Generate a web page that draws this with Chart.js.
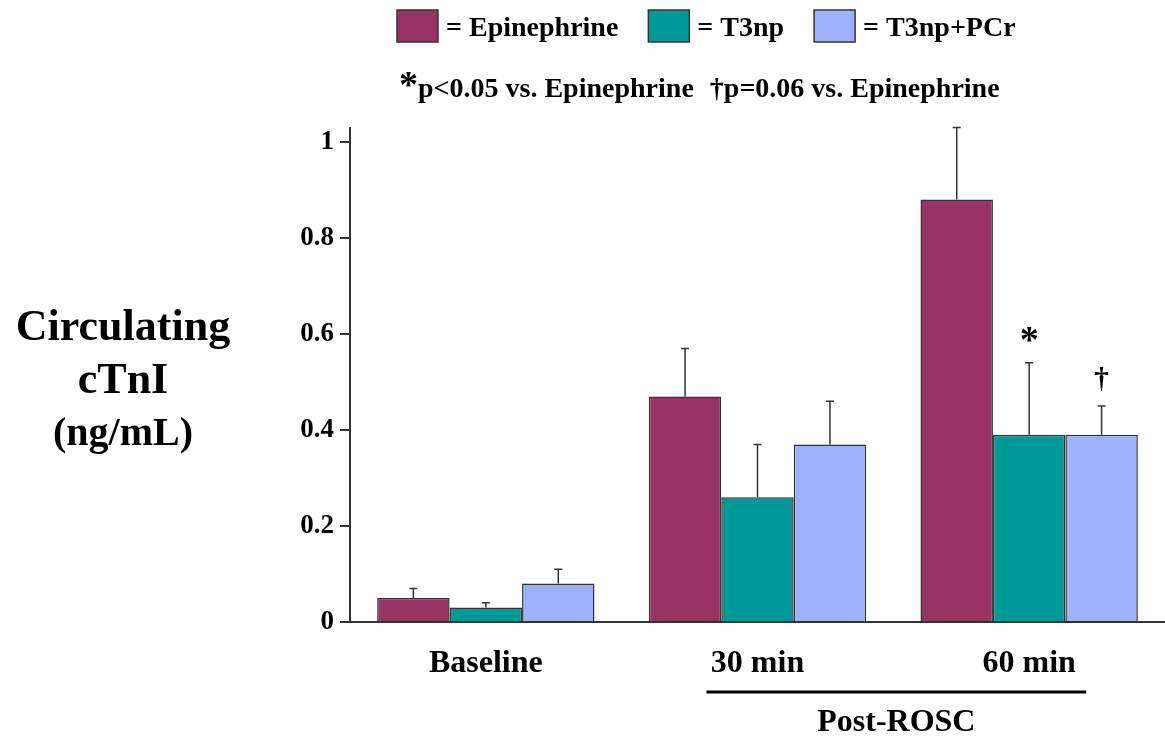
<!DOCTYPE html>
<html>
<head>
<meta charset="utf-8">
<script src="https://cdn.jsdelivr.net/npm/chart.js@4.4.0/dist/chart.umd.min.js"></script>
<style>
  html, body { margin: 0; padding: 0; background: #fff; }
  #wrap { width: 1165px; height: 739px; }
</style>
</head>
<body>
<div id="wrap"><canvas id="myChart" width="1165" height="739"></canvas></div>
<script>
'use strict'

// data
const categories = ['Baseline', '30 min', '60 min'];
const seriesNames = ['Epinephrine', 'T3np', 'T3np+PCr'];
const epinephrine = [0.05, 0.47, 0.88];
const epinephrineErr = [0.02, 0.10, 0.15];
const t3np = [0.03, 0.26, 0.39];
const t3npErr = [0.01, 0.11, 0.15];
const t3npPcr = [0.08, 0.37, 0.39];
const t3npPcrErr = [0.03, 0.09, 0.06];
// significance marks per series, per category
const marks = [['', '', ''], ['', '', '*'], ['', '', '\u2020']];
const yTickValues = [0, 0.2, 0.4, 0.6, 0.8, 1];
const yTickLabels = ['0', '0.2', '0.4', '0.6', '0.8', '1'];
const yTitle = ['Circulating', 'cTnI', '(ng/mL)'];
const groupLabel = 'Post-ROSC';
const noteParts = ['*', 'p<0.05 vs. Epinephrine', '\u2020', 'p=0.06 vs. Epinephrine'];

const colors = ['#993366', '#009999', '#9db1fd'];
const serif = '"Liberation Serif", "Times New Roman", serif';
const ink = '#333333';

const errors = [epinephrineErr, t3npErr, t3npPcrErr];

const extras = {
  id: 'extras',
  afterDatasetsDraw(chart) {
    const ctx = chart.ctx;
    const y = chart.scales.y;
    ctx.save();
    chart.data.datasets.forEach((ds, di) => {
      const meta = chart.getDatasetMeta(di);
      meta.data.forEach((bar, i) => {
        const top = y.getPixelForValue(ds.data[i] + errors[di][i]);
        ctx.strokeStyle = ink;
        ctx.lineWidth = 1.5;
        ctx.beginPath();
        ctx.moveTo(bar.x, bar.y);
        ctx.lineTo(bar.x, top);
        ctx.moveTo(bar.x - 4, top);
        ctx.lineTo(bar.x + 4, top);
        ctx.stroke();
        const m = marks[di][i];
        if (m) {
          ctx.fillStyle = '#000';
          ctx.textAlign = 'center';
          ctx.textBaseline = 'alphabetic';
          if (m === '*') {
            ctx.font = 'bold 38px ' + serif;
            ctx.fillText(m, bar.x, top - 11);
          } else {
            ctx.font = 'bold 30px ' + serif;
            ctx.fillText(m, bar.x, top - 18);
          }
        }
      });
    });
    ctx.restore();
  },
  afterDraw(chart) {
    const ctx = chart.ctx;
    ctx.save();
    ctx.fillStyle = '#000';
    ctx.textBaseline = 'alphabetic';

    // legend
    ctx.font = 'bold 28px ' + serif;
    let x = 397;
    seriesNames.forEach((name, i) => {
      ctx.fillStyle = colors[i];
      ctx.fillRect(x, 10, 41, 32);
      ctx.strokeStyle = ink;
      ctx.lineWidth = 1.5;
      ctx.strokeRect(x, 10, 41, 32);
      ctx.fillStyle = '#000';
      ctx.textAlign = 'left';
      const txt = '= ' + name;
      ctx.fillText(txt, x + 49, 36);
      x += 49 + ctx.measureText(txt).width + 30;
    });

    // significance note
    x = 399;
    ctx.textAlign = 'left';
    ctx.font = 'bold 38px ' + serif;
    ctx.fillText(noteParts[0], x, 97);
    x += ctx.measureText(noteParts[0]).width;
    ctx.font = 'bold 28px ' + serif;
    ctx.fillText(noteParts[1], x, 97);
    x += ctx.measureText(noteParts[1]).width + 16;
    ctx.fillText(noteParts[2], x, 97);
    x += ctx.measureText(noteParts[2]).width;
    ctx.fillText(noteParts[3], x, 97);

    // y title
    ctx.textAlign = 'center';
    ctx.font = 'bold 44px ' + serif;
    ctx.fillText(yTitle[0], 123, 340);
    ctx.fillText(yTitle[1], 123, 393);
    ctx.font = 'bold 40px ' + serif;
    ctx.fillText(yTitle[2], 123, 445);

    // Post-ROSC bracket under the last two groups
    const xs = chart.scales.x;
    const x1 = xs.getPixelForValue(1) - 51;
    const x2 = xs.getPixelForValue(2) + 57;
    ctx.strokeStyle = '#000';
    ctx.lineWidth = 3;
    ctx.beginPath();
    ctx.moveTo(x1, 692);
    ctx.lineTo(x2, 692);
    ctx.stroke();
    ctx.font = 'bold 32px ' + serif;
    ctx.fillText(groupLabel, (x1 + x2) / 2, 731);
    ctx.restore();
  }
};

const ctx = document.getElementById('myChart').getContext('2d');

const myChart = new Chart(ctx, {
  type: 'bar',
  data: {
    labels: categories,
    datasets: [
      { label: seriesNames[0], data: epinephrine, backgroundColor: colors[0] },
      { label: seriesNames[1], data: t3np, backgroundColor: colors[1] },
      { label: seriesNames[2], data: t3npPcr, backgroundColor: colors[2] }
    ]
  },
  options: {
    responsive: false,
    animation: false,
    devicePixelRatio: 1,
    layout: { padding: { top: 127.6, left: 0, right: 0, bottom: 0 } },
    datasets: {
      bar: {
        categoryPercentage: 0.8,
        barPercentage: 1.0,
        borderColor: ink,
        borderWidth: 1.5
      }
    },
    plugins: {
      legend: { display: false },
      tooltip: { enabled: false }
    },
    scales: {
      x: {
        afterFit(s) { s.height = 117; },
        grid: { display: true, drawOnChartArea: false, drawTicks: false },
        border: { display: true, color: ink, width: 2 },
        ticks: {
          color: '#000',
          padding: 23,
          font: { family: serif, size: 32, weight: 'bold' }
        }
      },
      y: {
        min: 0,
        max: 1.03,
        afterFit(s) { s.width = 350; },
        afterBuildTicks(s) { s.ticks = yTickValues.map(v => ({ value: v })); },
        grid: { drawOnChartArea: false, drawTicks: true, tickLength: 10, color: ink, lineWidth: 2 },
        border: { display: true, color: ink, width: 2 },
        ticks: {
          color: '#000',
          padding: 6,
          font: { family: serif, size: 27, weight: 'bold' },
          callback: (v, i) => yTickLabels[i]
        }
      }
    }
  },
  plugins: [extras]
});
</script>
</body>
</html>
